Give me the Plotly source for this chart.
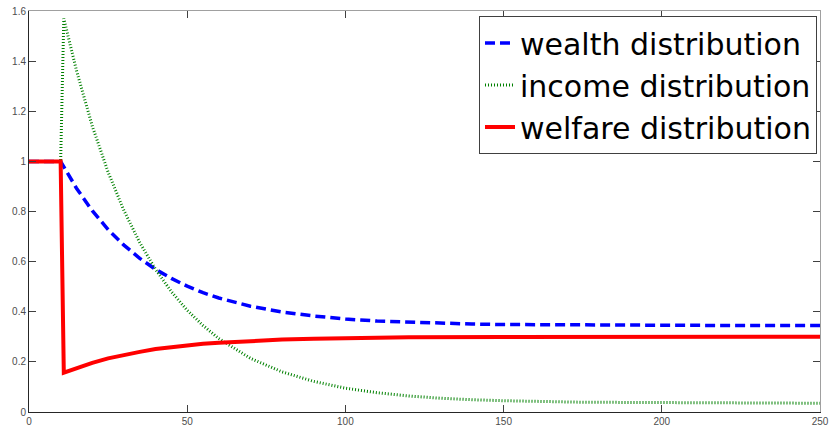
import plotly.graph_objects as go

# ---- data ----
wealth_t = [0, 5, 10, 15, 20, 25, 30, 35, 40, 45, 50, 55, 60, 70, 80, 90, 100,
            110, 120, 130, 140, 150, 175, 200, 225, 250]
wealth_v = [1.0, 1.0, 1.0, 0.893, 0.803, 0.728, 0.666, 0.613, 0.569, 0.533, 0.502,
            0.476, 0.455, 0.422, 0.399, 0.383, 0.371, 0.363, 0.358, 0.354, 0.351,
            0.349, 0.347, 0.346, 0.345, 0.345]

income_t = [0, 5, 10, 11, 15, 20, 25, 30, 35, 40, 45, 50, 55, 60, 70, 80, 90, 100,
            110, 120, 130, 140, 150, 175, 200, 225, 250]
income_v = [1.0, 1.0, 1.0, 1.57, 1.363, 1.141, 0.957, 0.804, 0.676, 0.569, 0.480,
            0.406, 0.345, 0.293, 0.214, 0.160, 0.122, 0.095, 0.077, 0.064, 0.055,
            0.049, 0.045, 0.039, 0.037, 0.036, 0.035]

welfare_t = [0, 5, 10, 11, 15, 20, 25, 30, 35, 40, 45, 50, 55, 60, 70, 80, 90, 100,
             120, 150, 200, 250]
welfare_v = [1.0, 1.0, 1.0, 0.157, 0.175, 0.196, 0.214, 0.228, 0.240, 0.251, 0.259,
             0.266, 0.272, 0.276, 0.284, 0.289, 0.292, 0.295, 0.298, 0.299, 0.300,
             0.300]

series_names = ["wealth distribution", "income distribution", "welfare distribution"]

x_ticks = [0, 50, 100, 150, 200, 250]
x_tick_labels = ["0", "50", "100", "150", "200", "250"]
y_ticks = [0, 0.2, 0.4, 0.6, 0.8, 1.0, 1.2, 1.4, 1.6]
y_tick_labels = ["0", "0.2", "0.4", "0.6", "0.8", "1", "1.2", "1.4", "1.6"]

x_range = [0, 250]
y_range = [0, 1.6]

# ---- figure ----
fig = go.Figure()
fig.add_trace(go.Scatter(x=wealth_t, y=wealth_v, mode="lines", name=series_names[0],
                         line=dict(color="#0000ff", width=3.5, dash="10px,5px")))
fig.add_trace(go.Scatter(x=income_t, y=income_v, mode="lines", name=series_names[1],
                         line=dict(color="#008000", width=3, dash="1px,2px")))
fig.add_trace(go.Scatter(x=welfare_t, y=welfare_v, mode="lines", name=series_names[2],
                         line=dict(color="#ff0000", width=4)))
# dummy trace for the mirrored (top/right) axes
fig.add_trace(go.Scatter(x=[None], y=[None], xaxis="x2", yaxis="y2",
                         showlegend=False, hoverinfo="skip"))

tickfont = dict(family="Liberation Sans, Arial, sans-serif", size=10, color="#4d4d4d")

fig.update_layout(
    width=832, height=432,
    margin=dict(l=29, r=12, t=11, b=20),
    paper_bgcolor="white", plot_bgcolor="white",
    showlegend=True,
    legend=dict(
        x=0.9962, y=0.9875, xanchor="right", yanchor="top",
        bgcolor="white", bordercolor="#404040", borderwidth=1,
        font=dict(family="DejaVu Sans, sans-serif", size=30, color="black"),
        tracegroupgap=0, itemwidth=30,
    ),
    xaxis=dict(
        range=x_range, tickvals=x_ticks, ticktext=x_tick_labels,
        ticks="inside", ticklen=7, tickcolor="#404040", tickwidth=1,
        showline=True, linecolor="#262626", linewidth=1, automargin=False,
        showgrid=False, zeroline=False, tickfont=tickfont,
    ),
    yaxis=dict(
        range=y_range, tickvals=y_ticks, ticktext=y_tick_labels,
        ticks="inside", ticklen=7, tickcolor="#404040", tickwidth=1,
        showline=True, linecolor="#262626", linewidth=1, automargin=False,
        showgrid=False, zeroline=False, tickfont=tickfont,
    ),
    xaxis2=dict(
        range=x_range, tickvals=x_ticks, overlaying="x", side="top", anchor="y2",
        ticks="inside", ticklen=7, tickcolor="#404040", tickwidth=1,
        showline=True, linecolor="#a0a0a0", linewidth=1, automargin=False,
        showgrid=False, zeroline=False, showticklabels=False,
    ),
    yaxis2=dict(
        range=y_range, tickvals=y_ticks, overlaying="y", side="right", anchor="x2",
        ticks="inside", ticklen=7, tickcolor="#404040", tickwidth=1,
        showline=True, linecolor="#a0a0a0", linewidth=1, automargin=False,
        showgrid=False, zeroline=False, showticklabels=False,
    ),
)

# remove the default 8px page margin so the figure fills the window exactly
fig.write_html("out.html",
               config={"displayModeBar": False},
               post_script="document.body.style.margin='0';document.body.style.overflow='hidden';")
